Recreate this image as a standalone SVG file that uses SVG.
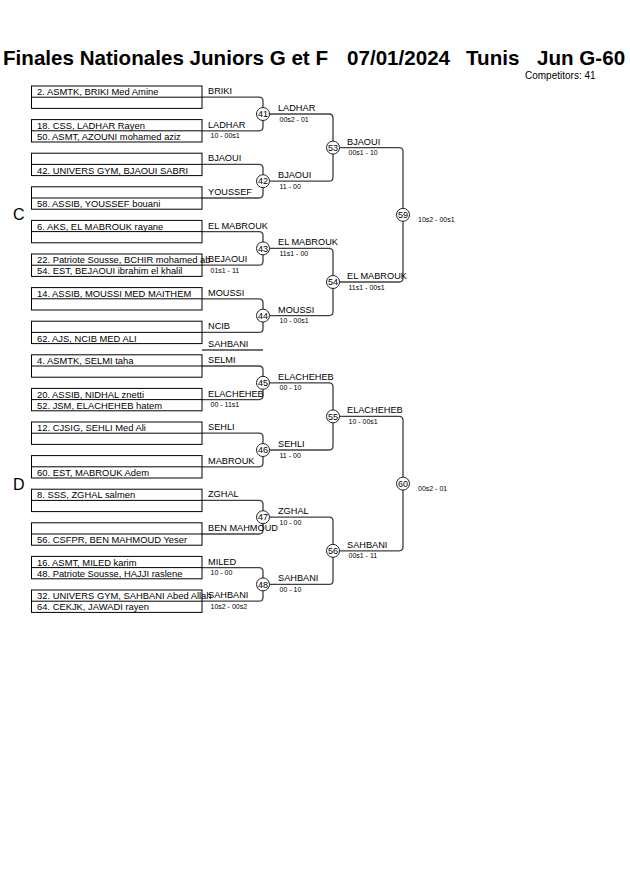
<svg xmlns="http://www.w3.org/2000/svg" width="630" height="891" viewBox="0 0 630 891">
<style>
text{font-family:"Liberation Sans",Arial,sans-serif;fill:#000}
.title{font-size:20.6px;font-weight:bold}
.comp{font-size:10px}
.grp{font-size:16px}
.ent{font-size:9.4px}
.lbl{font-size:9.2px}
.sc{font-size:7px}
.num{font-size:9px;text-anchor:middle}
.box{fill:#fff;stroke:#000;stroke-width:1}
.div{stroke:#000;stroke-width:1}
.con{fill:none;stroke:#404040;stroke-width:1.3}
.mc{fill:#fff;stroke:#222;stroke-width:1}
</style>
<rect width="630" height="891" fill="#fff"/>
<g id="header">
<text class="title" y="64.5"><tspan x="3">Finales Nationales Juniors G et F</tspan><tspan x="347">07/01/2024</tspan><tspan x="466">Tunis</tspan><tspan x="537">Jun G-60</tspan></text>
<text class="comp" x="525" y="79.3">Competitors: 41</text>
<text class="grp" x="13" y="219.5">C</text>
<text class="grp" x="13" y="490">D</text>
</g>
<g id="connectors">
<path class="con" d="M202,97.2H259Q263,97.2 263,101.2V126.8Q263,130.8 259,130.8H202"/>
<path class="con" d="M202,164.4H259Q263,164.4 263,168.4V194Q263,198 259,198H202"/>
<path class="con" d="M202,231.6H259Q263,231.6 263,235.6V261.2Q263,265.2 259,265.2H202"/>
<path class="con" d="M202,298.8H259Q263,298.8 263,302.8V328.4Q263,332.4 259,332.4H202"/>
<path class="con" d="M202,366H259Q263,366 263,370V395.6Q263,399.6 259,399.6H202"/>
<path class="con" d="M202,433.2H259Q263,433.2 263,437.2V462.8Q263,466.8 259,466.8H202"/>
<path class="con" d="M202,500.4H259Q263,500.4 263,504.4V530Q263,534 259,534H202"/>
<path class="con" d="M202,567.6H259Q263,567.6 263,571.6V597.2Q263,601.2 259,601.2H202"/>
<path class="con" d="M202,350H263"/>
<path class="con" d="M263,114H329Q333,114 333,118V177.2Q333,181.2 329,181.2H263"/>
<path class="con" d="M263,248.4H329Q333,248.4 333,252.4V311.6Q333,315.6 329,315.6H263"/>
<path class="con" d="M263,382.8H329Q333,382.8 333,386.8V446Q333,450 329,450H263"/>
<path class="con" d="M263,517.2H329Q333,517.2 333,521.2V580.4Q333,584.4 329,584.4H263"/>
<path class="con" d="M333,147.6H399Q403,147.6 403,151.6V278Q403,282 399,282H333"/>
<path class="con" d="M333,416.4H399Q403,416.4 403,420.4V546.8Q403,550.8 399,550.8H333"/>
</g>
<g id="entries">
<g id="box1"><rect class="box" x="31.5" y="86" width="170.5" height="22.4"/><line class="div" x1="31.5" y1="97.2" x2="202" y2="97.2"/><text class="ent" x="37" y="95.2">2. ASMTK, BRIKI Med Amine</text></g>
<g id="box2"><rect class="box" x="31.5" y="119.6" width="170.5" height="22.4"/><line class="div" x1="31.5" y1="130.8" x2="202" y2="130.8"/><text class="ent" x="37" y="128.8">18. CSS, LADHAR Rayen</text><text class="ent" x="37" y="140">50. ASMT, AZOUNI mohamed aziz</text></g>
<g id="box3"><rect class="box" x="31.5" y="153.2" width="170.5" height="22.4"/><line class="div" x1="31.5" y1="164.4" x2="202" y2="164.4"/><text class="ent" x="37" y="173.6">42. UNIVERS GYM, BJAOUI SABRI</text></g>
<g id="box4"><rect class="box" x="31.5" y="186.8" width="170.5" height="22.4"/><line class="div" x1="31.5" y1="198" x2="202" y2="198"/><text class="ent" x="37" y="207.2">58. ASSIB, YOUSSEF bouani</text></g>
<g id="box5"><rect class="box" x="31.5" y="220.4" width="170.5" height="22.4"/><line class="div" x1="31.5" y1="231.6" x2="202" y2="231.6"/><text class="ent" x="37" y="229.6">6. AKS, EL MABROUK rayane</text></g>
<g id="box6"><rect class="box" x="31.5" y="254" width="170.5" height="22.4"/><line class="div" x1="31.5" y1="265.2" x2="202" y2="265.2"/><text class="ent" x="37" y="263.2">22. Patriote Sousse, BCHIR mohamed ab</text><text class="ent" x="37" y="274.4">54. EST, BEJAOUI ibrahim el khalil</text></g>
<g id="box7"><rect class="box" x="31.5" y="287.6" width="170.5" height="22.4"/><line class="div" x1="31.5" y1="298.8" x2="202" y2="298.8"/><text class="ent" x="37" y="296.8">14. ASSIB, MOUSSI MED MAITHEM</text></g>
<g id="box8"><rect class="box" x="31.5" y="321.2" width="170.5" height="22.4"/><line class="div" x1="31.5" y1="332.4" x2="202" y2="332.4"/><text class="ent" x="37" y="341.6">62. AJS, NCIB MED ALI</text></g>
<g id="box9"><rect class="box" x="31.5" y="354.8" width="170.5" height="22.4"/><line class="div" x1="31.5" y1="366" x2="202" y2="366"/><text class="ent" x="37" y="364">4. ASMTK, SELMI taha</text></g>
<g id="box10"><rect class="box" x="31.5" y="388.4" width="170.5" height="22.4"/><line class="div" x1="31.5" y1="399.6" x2="202" y2="399.6"/><text class="ent" x="37" y="397.6">20. ASSIB, NIDHAL znetti</text><text class="ent" x="37" y="408.8">52. JSM, ELACHEHEB hatem</text></g>
<g id="box11"><rect class="box" x="31.5" y="422" width="170.5" height="22.4"/><line class="div" x1="31.5" y1="433.2" x2="202" y2="433.2"/><text class="ent" x="37" y="431.2">12. CJSIG, SEHLI Med Ali</text></g>
<g id="box12"><rect class="box" x="31.5" y="455.6" width="170.5" height="22.4"/><line class="div" x1="31.5" y1="466.8" x2="202" y2="466.8"/><text class="ent" x="37" y="476">60. EST, MABROUK Adem</text></g>
<g id="box13"><rect class="box" x="31.5" y="489.2" width="170.5" height="22.4"/><line class="div" x1="31.5" y1="500.4" x2="202" y2="500.4"/><text class="ent" x="37" y="498.4">8. SSS, ZGHAL salmen</text></g>
<g id="box14"><rect class="box" x="31.5" y="522.8" width="170.5" height="22.4"/><line class="div" x1="31.5" y1="534" x2="202" y2="534"/><text class="ent" x="37" y="543.2">56. CSFPR, BEN MAHMOUD Yeser</text></g>
<g id="box15"><rect class="box" x="31.5" y="556.4" width="170.5" height="22.4"/><line class="div" x1="31.5" y1="567.6" x2="202" y2="567.6"/><text class="ent" x="37" y="565.6">16. ASMT, MILED karim</text><text class="ent" x="37" y="576.8">48. Patriote Sousse, HAJJI raslene</text></g>
<g id="box16"><rect class="box" x="31.5" y="590" width="170.5" height="22.4"/><line class="div" x1="31.5" y1="601.2" x2="202" y2="601.2"/><text class="ent" x="37" y="599.2">32. UNIVERS GYM, SAHBANI Abed Allah</text><text class="ent" x="37" y="610.4">64. CEKJK, JAWADI rayen</text></g>
</g>
<g id="labels">
<text class="lbl" x="208" y="94.2">BRIKI</text>
<text class="lbl" x="208" y="127.8">LADHAR</text><text class="sc" x="210.5" y="138.3">10 - 00s1</text>
<text class="lbl" x="208" y="161.4">BJAOUI</text>
<text class="lbl" x="208" y="195">YOUSSEF</text>
<text class="lbl" x="208" y="228.6">EL MABROUK</text>
<text class="lbl" x="208" y="262.2">BEJAOUI</text><text class="sc" x="210.5" y="272.7">01s1 - 11</text>
<text class="lbl" x="208" y="295.8">MOUSSI</text>
<text class="lbl" x="208" y="329.4">NCIB</text>
<text class="lbl" x="208" y="346.5">SAHBANI</text>
<text class="lbl" x="208" y="363">SELMI</text>
<text class="lbl" x="208" y="396.6">ELACHEHEB</text><text class="sc" x="210.5" y="407.1">00 - 11s1</text>
<text class="lbl" x="208" y="430.2">SEHLI</text>
<text class="lbl" x="208" y="463.8">MABROUK</text>
<text class="lbl" x="208" y="497.4">ZGHAL</text>
<text class="lbl" x="208" y="531">BEN MAHMOUD</text>
<text class="lbl" x="208" y="564.6">MILED</text><text class="sc" x="210.5" y="575.1">10 - 00</text>
<text class="lbl" x="208" y="598.2">SAHBANI</text><text class="sc" x="210.5" y="608.7">10s2 - 00s2</text>
<text class="lbl" x="278" y="111">LADHAR</text><text class="sc" x="279.5" y="121.5">00s2 - 01</text>
<text class="lbl" x="278" y="178.2">BJAOUI</text><text class="sc" x="279.5" y="188.7">11 - 00</text>
<text class="lbl" x="278" y="245.4">EL MABROUK</text><text class="sc" x="279.5" y="255.9">11s1 - 00</text>
<text class="lbl" x="278" y="312.6">MOUSSI</text><text class="sc" x="279.5" y="323.1">10 - 00s1</text>
<text class="lbl" x="278" y="379.8">ELACHEHEB</text><text class="sc" x="279.5" y="390.3">00 - 10</text>
<text class="lbl" x="278" y="447">SEHLI</text><text class="sc" x="279.5" y="457.5">11 - 00</text>
<text class="lbl" x="278" y="514.2">ZGHAL</text><text class="sc" x="279.5" y="524.7">10 - 00</text>
<text class="lbl" x="278" y="581.4">SAHBANI</text><text class="sc" x="279.5" y="591.9">00 - 10</text>
<text class="lbl" x="347" y="144.6">BJAOUI</text><text class="sc" x="348.5" y="155.1">00s1 - 10</text>
<text class="lbl" x="347" y="279">EL MABROUK</text><text class="sc" x="348.5" y="289.5">11s1 - 00s1</text>
<text class="lbl" x="347" y="413.4">ELACHEHEB</text><text class="sc" x="348.5" y="423.9">10 - 00s1</text>
<text class="lbl" x="347" y="547.8">SAHBANI</text><text class="sc" x="348.5" y="558.3">00s1 - 11</text>
<text class="sc" x="418" y="222">10s2 - 00s1</text>
<text class="sc" x="418" y="490.8">00s2 - 01</text>
</g>
<g id="matches">
<g id="m41"><circle class="mc" cx="263" cy="114" r="6.5"/><text class="num" x="263" y="117.2">41</text></g>
<g id="m42"><circle class="mc" cx="263" cy="181.2" r="6.5"/><text class="num" x="263" y="184.4">42</text></g>
<g id="m43"><circle class="mc" cx="263" cy="248.4" r="6.5"/><text class="num" x="263" y="251.6">43</text></g>
<g id="m44"><circle class="mc" cx="263" cy="315.6" r="6.5"/><text class="num" x="263" y="318.8">44</text></g>
<g id="m45"><circle class="mc" cx="263" cy="382.8" r="6.5"/><text class="num" x="263" y="386">45</text></g>
<g id="m46"><circle class="mc" cx="263" cy="450" r="6.5"/><text class="num" x="263" y="453.2">46</text></g>
<g id="m47"><circle class="mc" cx="263" cy="517.2" r="6.5"/><text class="num" x="263" y="520.4">47</text></g>
<g id="m48"><circle class="mc" cx="263" cy="584.4" r="6.5"/><text class="num" x="263" y="587.6">48</text></g>
<g id="m53"><circle class="mc" cx="333" cy="147.6" r="6.5"/><text class="num" x="333" y="150.8">53</text></g>
<g id="m54"><circle class="mc" cx="333" cy="282" r="6.5"/><text class="num" x="333" y="285.2">54</text></g>
<g id="m55"><circle class="mc" cx="333" cy="416.4" r="6.5"/><text class="num" x="333" y="419.6">55</text></g>
<g id="m56"><circle class="mc" cx="333" cy="550.8" r="6.5"/><text class="num" x="333" y="554">56</text></g>
<g id="m59"><circle class="mc" cx="403" cy="214.8" r="6.5"/><text class="num" x="403" y="218">59</text></g>
<g id="m60"><circle class="mc" cx="403" cy="483.6" r="6.5"/><text class="num" x="403" y="486.8">60</text></g>
</g>
</svg>
